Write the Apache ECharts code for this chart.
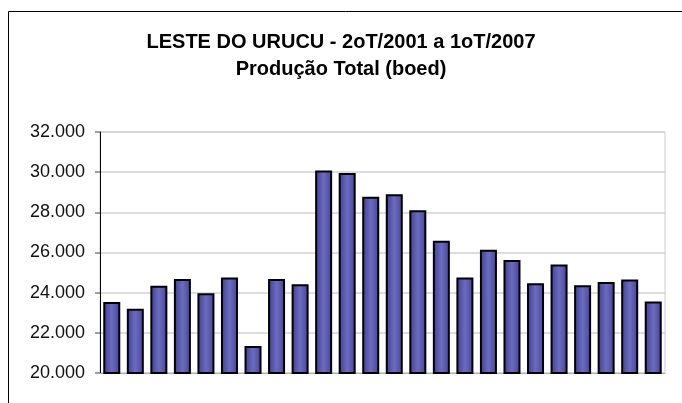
<!DOCTYPE html>
<html>
<head>
<meta charset="utf-8">
<script src="https://cdn.jsdelivr.net/npm/echarts@6/dist/echarts.min.js"></script>
<style>
  html, body { margin: 0; padding: 0; background: #fff; }
  #chart { width: 682px; height: 403px; }
</style>
</head>
<body>
<div id="chart"></div>
<script>
// trimestres 2oT/2001 .. 1oT/2007
var quarters = [
  '2T/2001', '3T/2001', '4T/2001',
  '1T/2002', '2T/2002', '3T/2002', '4T/2002',
  '1T/2003', '2T/2003', '3T/2003', '4T/2003',
  '1T/2004', '2T/2004', '3T/2004', '4T/2004',
  '1T/2005', '2T/2005', '3T/2005', '4T/2005',
  '1T/2006', '2T/2006', '3T/2006', '4T/2006',
  '1T/2007'
]
// producao total (boed)
var producao = [
  23536, 23200, 24350, 24680, 23970, 24750, 21350, 24680,
  24420, 30080, 29960, 28780, 28900, 28100, 26590, 24750,
  26140, 25630, 24470, 25400, 24370, 24530, 24650, 23560
]
var yMin = 20000
var yMax = 32000
var yStep = 2000

var font = "'Liberation Sans', Arial, sans-serif"

function milhar (v) {
  return String(v).replace(/\B(?=(\d{3})+(?!\d))/g, '.')
}

var chart = echarts.init(document.getElementById('chart'))
chart.setOption({
  animation: false,
  title: {
    text: 'LESTE DO URUCU - 2oT/2001 a 1oT/2007\nProdução Total (boed)',
    left: 'center',
    top: 24,
    textStyle: {
      fontFamily: font,
      fontSize: 20,
      fontWeight: 'bold',
      color: '#000',
      lineHeight: 27
    }
  },
  graphic: [
    {
      type: 'rect',
      shape: { x: 8.5, y: 11.5, width: 800, height: 500 },
      style: { fill: 'none', stroke: '#000', lineWidth: 1 },
      silent: true
    }
  ],
  grid: {
    left: 100,
    right: 17,
    top: 132,
    bottom: 30,
    show: true,
    borderColor: '#cccccc',
    borderWidth: 1
  },
  xAxis: {
    type: 'category',
    data: quarters,
    axisLabel: { show: false },
    axisTick: { show: false },
    axisLine: { lineStyle: { color: '#b0b0b0', width: 1 } }
  },
  yAxis: {
    type: 'value',
    min: yMin,
    max: yMax,
    interval: yStep,
    axisLine: { show: true, lineStyle: { color: '#000', width: 1 } },
    axisTick: { show: true, length: 5, lineStyle: { color: '#808080', width: 1.5 } },
    splitLine: { lineStyle: { color: '#d2d2d2', width: 1.5 } },
    axisLabel: {
      fontFamily: font,
      fontSize: 18,
      color: '#111',
      margin: 15,
      formatter: milhar
    }
  },
  series: [
    {
      type: 'bar',
      data: producao,
      barWidth: 17,
      itemStyle: {
        color: new echarts.graphic.LinearGradient(0, 0, 1, 0, [
          { offset: 0, color: '#3c3c96' },
          { offset: 0.5, color: '#6c6cbe' },
          { offset: 1, color: '#43439c' }
        ]),
        borderColor: '#000',
        borderWidth: 2
      }
    }
  ]
})
</script>
</body>
</html>
